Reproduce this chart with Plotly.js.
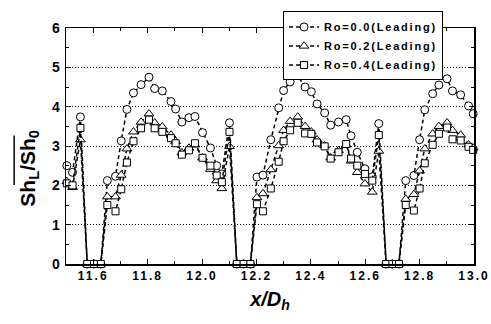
<!DOCTYPE html>
<html>
<head>
<meta charset="utf-8">
<script src="https://cdn.plot.ly/plotly-3.0.1.min.js"></script>
<style>
  html, body { margin: 0; padding: 0; background: #fff; }
  #chart { width: 491px; height: 324px; }
  .xtick text { letter-spacing: 2px; }
  .legendtext { letter-spacing: 1.8px; }
</style>
</head>
<body>
<div id="chart"></div>
<script>
// x/Dh positions (shared by all three series)
const xPos = [
  11.503, 11.524, 11.553, 11.578, 11.603, 11.628,
  11.652, 11.682, 11.703, 11.724, 11.748, 11.776, 11.805, 11.826, 11.854, 11.886,
  11.903, 11.926, 11.952, 11.974, 12.002, 12.031, 12.054, 12.073, 12.101,
  12.128, 12.153, 12.178,
  12.202, 12.224, 12.253, 12.282, 12.300, 12.324, 12.352, 12.379, 12.402, 12.423,
  12.451, 12.473, 12.502, 12.530, 12.548, 12.571, 12.599, 12.626, 12.650,
  12.677, 12.700, 12.724,
  12.749, 12.779, 12.800, 12.819, 12.848, 12.871, 12.901, 12.921, 12.951, 12.980, 12.997
];

// Ro = 0.0 (Leading)
const ro00 = [
  2.50, 2.33, 3.74, 0, 0, 0,
  2.12, 2.23, 3.13, 3.93, 4.35, 4.56, 4.75, 4.46, 4.40, 4.13,
  3.94, 3.61, 3.72, 3.75, 3.34, 2.95, 2.50, 2.29, 3.59,
  0, 0, 0,
  2.21, 2.26, 3.16, 3.97, 4.41, 4.63, 4.79, 4.50, 4.38, 4.07,
  3.84, 3.53, 3.61, 3.67, 3.26, 2.84, 2.42, 2.22, 3.57,
  0, 0, 0,
  2.12, 2.25, 3.16, 3.92, 4.33, 4.55, 4.71, 4.40, 4.30, 4.02, 3.82
];

// Ro = 0.2 (Leading)
const ro02 = [
  2.10, 1.95, 3.16, 0, 0, 0,
  1.71, 1.71, 2.26, 2.93, 3.36, 3.61, 3.82, 3.59, 3.49, 3.28,
  3.12, 2.83, 2.95, 3.03, 2.70, 2.41, 2.12, 1.92, 2.99,
  0, 0, 0,
  1.69, 1.79, 2.40, 3.01, 3.40, 3.63, 3.74, 3.50, 3.36, 3.16,
  3.01, 2.70, 2.89, 3.03, 2.62, 2.33, 2.04, 1.83, 2.87,
  0, 0, 0,
  1.65, 1.77, 2.37, 2.93, 3.31, 3.50, 3.59, 3.40, 3.28, 3.03, 2.95
];

// Ro = 0.4 (Leading)
const ro04 = [
  2.05, 2.00, 3.46, 0, 0, 0,
  1.50, 1.34, 1.90, 2.58, 3.12, 3.45, 3.67, 3.45, 3.36, 3.20,
  3.07, 2.78, 2.89, 3.07, 2.70, 2.50, 2.25, 2.08, 3.36,
  0, 0, 0,
  1.52, 1.34, 1.92, 2.60, 3.12, 3.40, 3.59, 3.32, 3.31, 3.09,
  2.99, 2.68, 2.84, 3.05, 2.68, 2.50, 2.29, 2.12, 3.28,
  0, 0, 0,
  1.50, 1.36, 1.92, 2.56, 3.03, 3.31, 3.47, 3.17, 3.14, 2.98, 2.90
];

const seriesNames = ['Ro=0.0(Leading)', 'Ro=0.2(Leading)', 'Ro=0.4(Leading)'];
const seriesValues = [ro00, ro02, ro04];
const seriesSymbols = ['circle', 'triangle-up', 'square'];
const seriesSizes = [8, 8.5, 7];

const traces = seriesValues.map((vals, i) => ({
  type: 'scatter',
  mode: 'lines+markers',
  x: xPos,
  y: vals,
  name: seriesNames[i],
  cliponaxis: false,
  line: { color: '#000', width: 1.5, dash: '4px,3px' },
  marker: {
    symbol: seriesSymbols[i],
    size: seriesSizes[i],
    color: '#fff',
    line: { color: '#000', width: 1 }
  }
}));

const axisFont = { family: 'Liberation Sans, Arial, sans-serif', color: '#000', weight: 'bold' };

const layout = {
  width: 491,
  height: 324,
  margin: { l: 66, r: 17, t: 22, b: 60 },
  paper_bgcolor: '#fff',
  plot_bgcolor: '#fff',
  showlegend: true,
  xaxis: {
    range: [11.5, 13.0],
    tick0: 11.6,
    dtick: 0.2,
    tickformat: '.1f',
    ticks: 'inside',
    ticklen: 5,
    tickwidth: 1,
    tickcolor: '#000',
    minor: { dtick: 0.1, ticks: 'inside', ticklen: 3, tickcolor: '#000', showgrid: false },
    showgrid: false,
    zeroline: false,
    showline: true,
    mirror: 'ticks',
    linecolor: '#000',
    linewidth: 1.5,
    tickfont: Object.assign({ size: 12 }, axisFont),
    title: {
      text: '<b><i>x/D<sub>h</sub></i></b>',
      font: { family: 'Liberation Sans, Arial, sans-serif', size: 20, color: '#000' },
      standoff: 10
    },
    automargin: false
  },
  yaxis: {
    range: [0, 6],
    dtick: 1,
    ticks: 'inside',
    ticklen: 5,
    tickwidth: 1,
    tickcolor: '#000',
    minor: { dtick: 0.5, ticks: 'inside', ticklen: 3, tickcolor: '#000', showgrid: false },
    showgrid: true,
    gridcolor: '#000',
    gridwidth: 1,
    griddash: '1px,2px',
    zeroline: false,
    showline: true,
    mirror: 'ticks',
    linecolor: '#000',
    linewidth: 1.5,
    tickfont: Object.assign({ size: 14 }, axisFont),
    ticklabelstandoff: 2,
    automargin: false
  },
  legend: {
    x: 0.532,
    y: 1.07,
    xanchor: 'left',
    yanchor: 'top',
    bgcolor: '#fff',
    bordercolor: '#000',
    borderwidth: 1,
    tracegroupgap: 0,
    font: { family: 'Liberation Sans, Arial, sans-serif', size: 11, color: '#000', weight: 'bold' }
  },
  annotations: [{
    xref: 'paper', yref: 'paper',
    x: -0.09, y: 0.405,
    xanchor: 'center', yanchor: 'middle',
    textangle: -90,
    showarrow: false,
    text: '<b>Sh<sub>L</sub>/Sh<sub>0</sub></b>',
    font: { family: 'Liberation Sans, Arial, sans-serif', size: 21, color: '#000' }
  }],
  shapes: [{
    type: 'line',
    xref: 'paper', yref: 'paper',
    x0: -0.127, x1: -0.127,
    y0: 0.335, y1: 0.545,
    line: { color: '#000', width: 1.5 }
  }]
};

Plotly.newPlot('chart', traces, layout, { displayModeBar: false, staticPlot: true });
</script>
</body>
</html>
